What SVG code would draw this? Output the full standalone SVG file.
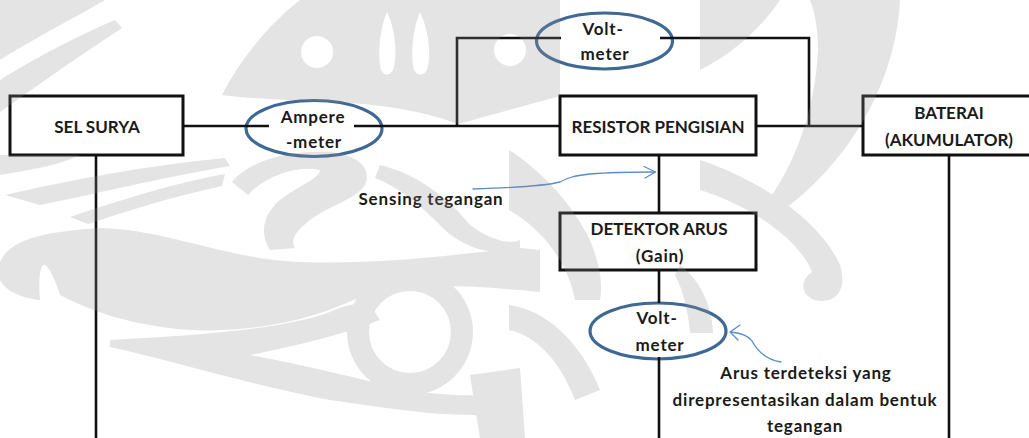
<svg xmlns="http://www.w3.org/2000/svg" width="1029" height="438" viewBox="0 0 1029 438">
  <defs>
    <style>
      .box { fill: #ffffff; stroke: #111111; stroke-width: 3; }
      .meter { fill: #ffffff; stroke: #3f6894; stroke-width: 3.2; }
      .wire { fill: none; stroke: #111111; stroke-width: 2.6; stroke-linecap: butt; }
      .note { fill: none; stroke: #5a8ccb; stroke-width: 1.3; stroke-linecap: round; stroke-linejoin: round; }
      .lbl { font-family: Lato, "Open Sans", "Liberation Sans", sans-serif; font-weight: 700; font-size: 17px; fill: #1a1a1a; text-anchor: middle; }
      .lc { letter-spacing: 0.8px; }
      .ornament { fill: #909090; fill-rule: evenodd; opacity: 0.24; }
    </style>
  </defs>
  <rect width="1029" height="438" fill="#ffffff"/>

  <!-- nodes -->
  <g id="sel-surya">
    <rect class="box" x="10" y="96" width="173" height="59"/>
    <text class="lbl" x="97" y="133">SEL SURYA</text>
  </g>
  <g id="amperemeter">
    <ellipse class="meter" cx="314" cy="128.5" rx="68" ry="28"/>
    <text class="lbl lc" x="313" y="123">Ampere</text>
    <text class="lbl lc" x="314" y="148">-meter</text>
  </g>
  <g id="voltmeter-top">
    <ellipse class="meter" cx="604.5" cy="41" rx="68" ry="28"/>
    <text class="lbl lc" x="603" y="35">Volt-</text>
    <text class="lbl lc" x="605" y="60">meter</text>
  </g>
  <g id="resistor-pengisian">
    <rect class="box" x="560" y="96" width="196" height="59"/>
    <text class="lbl" x="658" y="133">RESISTOR PENGISIAN</text>
  </g>
  <g id="baterai">
    <rect class="box" x="863" y="96" width="172" height="59"/>
    <text class="lbl" x="949" y="119">BATERAI</text>
    <text class="lbl" x="949" y="146">(AKUMULATOR)</text>
  </g>
  <g id="detektor-arus">
    <rect class="box" x="560" y="213" width="196" height="57"/>
    <text class="lbl" x="659" y="235">DETEKTOR ARUS</text>
    <text class="lbl lc" x="660" y="262">(Gain)</text>
  </g>
  <g id="voltmeter-bottom">
    <ellipse class="meter" cx="658" cy="331" rx="68" ry="28"/>
    <text class="lbl lc" x="657" y="324">Volt-</text>
    <text class="lbl lc" x="660" y="351">meter</text>
  </g>

  <!-- wiring -->
  <g id="connectors">
    <path class="wire" d="M183,126 L269,126"/>
    <path class="wire" d="M354,126 L560,126"/>
    <path class="wire" d="M457,126 L457,38 L561,38"/>
    <path class="wire" d="M660,38 L809,38 L809,126"/>
    <path class="wire" d="M756,126 L863,126"/>
    <path class="wire" d="M96,155 L96,438"/>
    <path class="wire" d="M949,155 L949,438"/>
    <path class="wire" d="M659,155 L659,213"/>
    <path class="wire" d="M659,270 L659,303"/>
    <path class="wire" d="M659,357 L659,438"/>
  </g>

  <!-- annotations -->
  <g id="annotations">
    <path class="note" d="M473,189 C505,188 545,186 560,182 C568,178 572,176 590,174 C615,172 635,172 655,172"/>
    <path class="note" d="M644,166.5 L655.5,172 L645,178"/>
    <text class="lbl lc" x="431" y="205">Sensing tegangan</text>
    <path class="note" d="M781,362 C768,360 758,352 752,341 C748,335 740,333 731,332"/>
    <path class="note" d="M740,325 L730,332 L738,340"/>
    <text class="lbl lc" x="806" y="379">Arus terdeteksi yang</text>
    <text class="lbl lc" x="805" y="406">direpresentasikan dalam bentuk</text>
    <text class="lbl lc" x="805" y="432">tegangan</text>
  </g>

  <!-- translucent ornament laid over the page -->
  <g id="ornament" class="ornament">
    <path d="M0,0 L105,0 C80,15 40,35 0,60 Z"/>
    <path d="M0,80 C40,55 80,35 115,20 L122,28 C85,52 45,80 0,112 Z"/>
    <path d="M300,0 L560,0 L560,96 L458,124 C420,110 380,104 330,102 C280,100 245,98 222,95 C240,60 268,25 300,0 Z
             M333,52 A16,16 0 1,0 301,52 A16,16 0 1,0 333,52 Z
             M387,12 C395,28 398,55 393,70 C390,76 384,76 381,70 C377,55 380,28 387,12 Z
             M420,12 C428,28 432,55 427,70 C424,76 417,76 414,70 C410,55 413,28 420,12 Z
             M526,50 A16,16 0 1,0 494,50 A16,16 0 1,0 526,50 Z"/>
    <path d="M0,155 L80,155 C60,165 30,170 0,175 Z"/>
    <path d="M5,195 C70,180 150,165 225,158 L230,166 C160,178 90,195 40,205 Z"/>
    <path d="M70,217 C130,197 180,182 225,174 L222,186 C175,196 130,210 88,224 Z"/>
    <path d="M232,182 C250,160 290,150 330,152 C360,155 372,170 365,185 C355,200 330,205 310,220 C295,232 290,240 295,248 L270,250 C260,235 262,215 280,200 C300,185 320,178 320,170 C300,165 265,175 248,195 Z"/>
    <path d="M380,165 C420,175 450,200 470,225 C490,240 510,245 520,240 L520,250 C490,256 465,248 445,230 C425,210 405,190 375,178 Z"/>
    <path d="M0,262 C10,240 40,232 100,228 C170,230 220,258 300,262 C380,265 450,255 520,248 L540,250 L540,292 C470,285 420,283 370,292 C320,318 260,333 190,330 C120,325 80,305 60,295 C55,280 50,268 45,265 C40,262 38,282 40,300 C20,298 5,290 0,280 Z"/>
    <path d="M110,340 C200,335 280,330 330,312 C345,305 360,302 370,305 L380,320 C340,335 300,345 250,355 C330,370 380,385 420,392 C470,398 500,395 520,390 L520,412 C460,420 400,410 330,400 C250,385 170,360 110,347 Z"/>
    <path d="M473,332 A63,63 0 1,0 347,332 A63,63 0 1,0 473,332 Z M451,332 A41,41 0 1,0 369,332 A41,41 0 1,0 451,332 Z"/>
    <path d="M470,375 L520,368 L525,438 L480,438 Z"/>
    <path d="M509,150 C540,170 570,200 590,240 C600,265 603,285 600,300 L575,300 C570,270 548,232 509,210 Z"/>
    <path d="M509,305 C545,310 580,340 600,390 L575,400 C560,360 535,335 509,330 Z"/>
    <path d="M700,0 L900,0 C897,70 860,150 790,205 L757,215 C795,170 815,110 818,50 C818,30 815,12 810,0 L780,0 C760,30 730,55 700,70 Z"/>
    <path d="M700,160 C760,180 820,220 840,265 C848,290 835,305 815,300 C800,295 800,280 812,272 C800,240 750,205 700,190 Z"/>
    <path d="M680,265 C700,280 712,305 713,333 L690,333 C688,310 683,290 675,275 Z"/>
  </g>
</svg>
